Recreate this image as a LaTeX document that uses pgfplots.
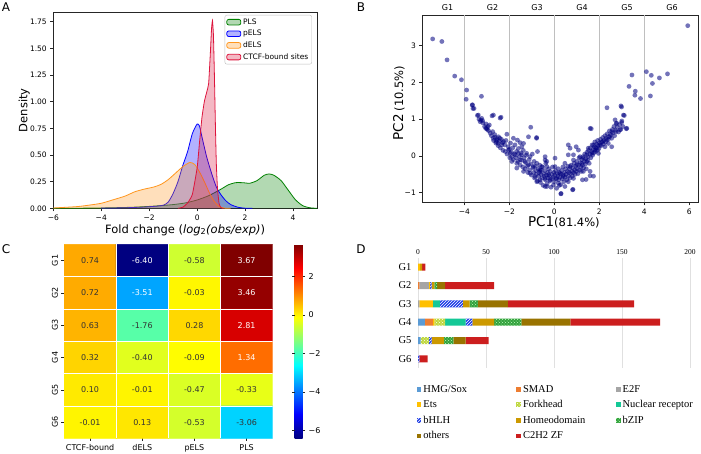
\documentclass[border=0pt]{standalone}
\usepackage{pgfplots}
\usepackage{pgfplotstable}
\pgfplotsset{compat=1.18}
\usepackage{fontspec}
\setmainfont{DejaVu Sans}
\newfontfamily\serif{Liberation Serif}
\usetikzlibrary{patterns}
\definecolor{cPLS}{RGB}{0,128,0}
\definecolor{cpELS}{RGB}{0,0,255}
\definecolor{cdELS}{RGB}{255,150,30}
\definecolor{cCTCF}{RGB}{220,20,60}
\definecolor{navyp}{RGB}{0,0,128}
\definecolor{dHMG}{RGB}{91,155,213}
\definecolor{dSMAD}{RGB}{237,125,49}
\definecolor{dE2F}{RGB}{165,165,165}
\definecolor{dEts}{RGB}{255,192,0}
\definecolor{dFork}{RGB}{190,215,60}
\definecolor{dNR}{RGB}{20,200,150}
\definecolor{dbHLH}{RGB}{30,60,230}
\definecolor{dHomeo}{RGB}{204,153,0}
\definecolor{dbZIP}{RGB}{50,160,60}
\definecolor{dOthers}{RGB}{153,115,0}
\definecolor{dC2H2}{RGB}{204,30,30}
\pgfplotstableread{
x y
-6 0
-5 0.001
-4 0.003
-3 0.008
-2.5 0.012
-2 0.018
-1.5 0.025
-1 0.035
-0.5 0.05
0 0.078
0.5 0.12
1 0.18
1.3 0.22
1.6 0.24
1.9 0.24
2.2 0.235
2.5 0.26
2.8 0.31
3.0 0.322
3.2 0.31
3.5 0.26
3.8 0.17
4.1 0.08
4.4 0.025
4.7 0.005
5 0
}\tPLS
\pgfplotstableread{
x y
-4 0.002
-3 0.005
-2.2 0.012
-1.7 0.02
-1.4 0.03
-1.2 0.06
-1.0 0.14
-0.8 0.25
-0.6 0.4
-0.4 0.53
-0.2 0.7
0 0.79
0.1 0.77
0.2 0.67
0.4 0.48
0.6 0.33
0.8 0.2
1.0 0.125
1.2 0.07
1.4 0.035
1.7 0.01
2.0 0.001
2.3 0
}\tpELS
\pgfplotstableread{
x y
-6 0.003
-5 0.016
-4.5 0.03
-4 0.047
-3.5 0.08
-3 0.115
-2.6 0.155
-2.2 0.18
-1.8 0.2
-1.5 0.225
-1.2 0.27
-0.9 0.33
-0.6 0.39
-0.3 0.43
-0.1 0.41
0.1 0.34
0.3 0.25
0.5 0.15
0.7 0.07
0.9 0.02
1.1 0.003
1.4 0
}\tdELS
\pgfplotstableread{
x y
-0.8 0
-0.6 0.01
-0.4 0.05
-0.2 0.13
0 0.38
0.1 0.62
0.2 0.85
0.3 1.0
0.4 1.09
0.48 1.17
0.55 1.45
0.6 1.68
0.64 1.76
0.68 1.62
0.72 1.25
0.76 0.8
0.8 0.42
0.85 0.18
0.92 0.04
1.0 0.005
1.1 0
}\tCTCF
\begin{document}
\begin{tikzpicture}[x=1pt,y=1pt]
\useasboundingbox (0pt,0pt) rectangle (701pt,453pt);
% panel letters
\node[font=\fontsize{12}{14}\selectfont] at (6pt,445.5pt) {A};
\node[font=\fontsize{12}{14}\selectfont] at (361pt,445.5pt) {B};
\node[font=\fontsize{12}{14}\selectfont] at (6pt,204pt) {C};
\node[font=\fontsize{12}{14}\selectfont] at (361pt,204pt) {D};

% ---------------- Panel A ----------------
\begin{axis}[
  at={(53.3pt,244.7pt)}, anchor=south west, scale only axis,
  width=263.7pt, height=196.3pt,
  xmin=-6, xmax=5, ymin=0, ymax=1.84,
  xtick={-6,-4,-2,0,2,4}, xticklabels={−6,−4,−2,0,2,4},
  ytick={0,0.25,0.5,0.75,1,1.25,1.5,1.75},
  yticklabels={0.00,0.25,0.50,0.75,1.00,1.25,1.50,1.75},
  tick align=outside, major tick length=3pt, xtick pos=left, ytick pos=left,
  tick style={black!85, line width=0.6pt},
  ticklabel style={font=\fontsize{7.5}{9}\selectfont},
  axis line style={black!85, line width=0.6pt},
  xlabel={Fold change (\textit{log}\textsubscript{2}\textit{(obs/exp)})},
  ylabel={Density},
  label style={font=\fontsize{11.5}{13}\selectfont},
  xlabel style={at={(axis description cs:0.5,-0.11)}, anchor=center},
  ylabel style={at={(axis description cs:-0.11,0.5)}, anchor=center},
  legend style={at={(0.981,0.985)}, anchor=north east, font=\fontsize{7.5}{9}\selectfont,
    draw=black!25, rounded corners=2pt, inner sep=1.5pt, row sep=0.5pt, cells={anchor=west}},
  legend image code/.code={\draw[#1] (0pt,-2.8pt) rectangle (14pt,2.8pt);},
]
\addplot[draw=none, fill=cPLS, fill opacity=0.3, smooth, tension=0.4, legend image post style={draw=cPLS, line width=0.8pt}] table {\tPLS} \closedcycle;
\addlegendentry{PLS}
\addplot[draw=cPLS, line width=0.8pt, smooth, tension=0.4, forget plot] table {\tPLS};
\addplot[draw=none, fill=cpELS, fill opacity=0.3, smooth, tension=0.4, legend image post style={draw=cpELS, line width=0.8pt}] table {\tpELS} \closedcycle;
\addlegendentry{pELS}
\addplot[draw=cpELS, line width=0.8pt, smooth, tension=0.4, forget plot] table {\tpELS};
\addplot[draw=none, fill=cdELS, fill opacity=0.3, smooth, tension=0.4, legend image post style={draw=cdELS, line width=0.8pt}] table {\tdELS} \closedcycle;
\addlegendentry{dELS}
\addplot[draw=cdELS, line width=0.8pt, smooth, tension=0.4, forget plot] table {\tdELS};
\addplot[draw=none, fill=cCTCF, fill opacity=0.3, smooth, tension=0.3, legend image post style={draw=cCTCF, line width=0.8pt}] table {\tCTCF} \closedcycle;
\addlegendentry{CTCF-bound sites}
\addplot[draw=cCTCF, line width=0.8pt, smooth, tension=0.3, forget plot] table {\tCTCF};
\end{axis}

% ---------------- Panel B ----------------
\begin{axis}[
  at={(422.3pt,250.7pt)}, anchor=south west, scale only axis,
  width=276pt, height=187.3pt,
  xmin=-5.87, xmax=6.4, ymin=-1.26, ymax=3.83, clip=false,
  xtick={-4,-2,0,2,4,6}, xticklabels={−4,−2,0,2,4,6},
  ytick={-1,0,1,2,3}, yticklabels={−1,0,1,2,3},
  tick align=outside, major tick length=3pt, xtick pos=left, ytick pos=left,
  tick style={black!85, line width=0.6pt},
  ticklabel style={font=\fontsize{7.5}{9}\selectfont},
  axis line style={black!85, line width=0.6pt},
  xlabel={{\fontsize{13.5}{15}\selectfont PC1}{\fontsize{11.5}{13}\selectfont(81.4\%)}},
  ylabel={{\fontsize{13.5}{15}\selectfont PC2} {\fontsize{11.5}{13}\selectfont(10.5\%)}},
  xlabel style={at={(axis description cs:0.513,-0.105)}, anchor=center},
  ylabel style={at={(axis description cs:-0.085,0.53)}, anchor=center},
]
\draw[black!25, line width=1pt] (axis cs:-4,-1.26) -- (axis cs:-4,3.83);
\draw[black!25, line width=1pt] (axis cs:-2,-1.26) -- (axis cs:-2,3.83);
\draw[black!25, line width=1pt] (axis cs:0,-1.26) -- (axis cs:0,3.83);
\draw[black!25, line width=1pt] (axis cs:2,-1.26) -- (axis cs:2,3.83);
\draw[black!25, line width=1pt] (axis cs:4,-1.26) -- (axis cs:4,3.83);
\addplot[only marks, mark=*, mark size=2.4pt, mark options={draw=navyp, draw opacity=0, fill=navyp, fill opacity=0.55}] table {
x y
-5.41 3.18
-5.00 3.11
-4.77 2.61
-4.43 2.17
-4.13 2.07
-3.90 1.79
-3.92 1.54
-3.65 1.38
-3.62 1.29
-3.24 1.62
-3.42 1.10
-3.27 0.97
-2.77 1.09
-2.41 1.03
-1.05 0.78
-0.79 0.50
1.64 0.74
2.34 1.31
2.99 1.33
3.11 1.10
3.20 0.74
3.32 1.89
3.45 2.20
3.60 1.76
3.58 1.65
3.83 1.56
4.09 2.29
4.31 2.19
4.36 1.97
4.27 1.63
4.67 2.12
5.03 2.23
5.93 3.54
-3.64 1.39
-3.57 1.29
-3.38 1.11
-3.23 1.02
-3.19 0.96
-3.04 0.87
-2.89 0.84
-3.01 0.75
-2.93 0.69
-2.74 0.66
-2.71 1.11
-2.37 1.05
-2.11 0.59
-2.64 0.51
-2.56 0.43
-2.42 0.48
-2.49 0.34
-2.34 0.30
-2.59 0.39
-2.26 0.39
-1.82 0.48
-1.64 0.43
-1.52 0.36
-1.37 0.34
-1.15 0.52
-0.79 0.48
-1.45 0.25
-2.04 0.16
-1.96 0.07
-1.89 -0.02
-1.74 0.03
-1.60 0.07
-1.45 0.03
-1.23 0.07
-1.08 -0.02
-0.75 0.12
-1.89 -0.15
-1.67 -0.20
-1.52 -0.11
-1.30 -0.15
-1.15 -0.24
-0.93 -0.29
-0.63 -0.38
-1.67 -0.33
-1.37 -0.42
-1.08 -0.47
-0.86 -0.56
-0.63 -0.65
-0.41 -0.61
-0.78 -0.70
-0.33 -0.83
-0.41 -0.11
-0.33 -0.29
2.96 1.36
3.07 1.11
2.70 0.98
2.77 0.89
2.99 0.91
2.92 0.71
3.22 0.75
2.74 0.66
2.55 0.66
1.59 0.75
2.47 0.53
2.33 0.44
2.15 0.39
2.40 0.34
2.55 0.25
2.25 0.25
2.03 0.30
1.88 0.21
1.74 0.30
1.81 0.16
1.96 0.07
1.66 0.07
1.51 0.21
1.44 0.03
1.29 -0.06
1.14 -0.02
0.97 0.25
0.62 0.30
0.70 0.21
0.85 0.03
1.07 0.16
0.85 -0.11
0.62 0.03
0.47 -0.20
0.70 -0.29
1.00 -0.24
1.22 -0.20
1.44 -0.15
1.59 -0.42
1.29 -0.42
1.25 -0.65
1.59 -0.54
0.85 -0.61
0.62 -0.70
0.47 -0.83
0.81 -0.92
0.29 -1.03
0.10 -0.61
0.03 -0.29
0.03 -0.06
-0.41 -0.02
-0.34 -0.15
-0.56 -0.29
-0.64 -0.42
-0.26 -0.51
-0.19 -0.65
-0.41 -0.83
0.25 -0.47
0.40 -0.56
0.18 -0.74
-0.04 -0.79
0.30 -1.02
0.83 -0.91
0.22 -0.80
1.41 -0.64
1.74 -0.55
-3.35 1.00
-3.30 0.93
-3.18 0.90
-3.10 0.80
-3.05 0.75
-2.98 0.72
-2.95 0.80
-2.85 0.62
-2.80 0.55
-2.72 0.48
-2.70 0.42
-2.65 0.58
-2.60 0.35
-2.55 0.47
-2.50 0.28
-2.48 0.52
-2.45 0.40
-2.40 0.22
-2.35 0.45
-2.30 0.36
-2.28 0.15
-2.20 0.30
-2.18 0.12
-2.15 0.42
-2.10 0.05
-2.05 0.25
-2.00 0.18
-1.98 -0.05
-1.95 0.35
-1.90 0.10
-1.85 0.22
-1.82 -0.10
-1.78 0.05
-1.75 0.30
-1.70 -0.05
-1.68 0.12
-1.62 -0.15
-1.60 0.20
-1.55 -0.02
-1.52 -0.25
-1.48 0.08
-1.45 -0.12
-1.40 -0.30
-1.38 0.15
-1.35 -0.05
-1.30 -0.35
-1.28 -0.18
-1.25 0.02
-1.20 -0.28
-1.18 -0.45
-1.12 -0.10
-1.10 -0.38
-1.05 -0.22
-1.02 -0.52
-0.98 0.05
-0.95 -0.32
-0.92 -0.45
-0.90 -0.15
-0.88 -0.60
-0.85 -0.28
-0.82 -0.40
-0.80 -0.50
-0.78 -0.20
-0.75 -0.68
-0.72 -0.35
-0.70 -0.55
-0.68 -0.45
-0.65 -0.25
-0.62 -0.72
-0.60 -0.50
-0.58 -0.38
-0.55 -0.60
-0.52 -0.30
-0.50 -0.80
-0.48 -0.48
-0.45 -0.55
-0.42 -0.40
-0.40 -0.65
-0.38 -0.20
-0.35 -0.52
-0.32 -0.75
-0.30 -0.45
-0.28 -0.60
-0.25 -0.35
-0.22 -0.55
-0.20 -0.68
-0.18 -0.42
-0.15 -0.85
-0.12 -0.50
-0.10 -0.62
-0.08 -0.30
-0.05 -0.58
-0.02 -0.45
0.00 -0.70
0.02 -0.52
0.05 -0.40
0.08 -0.62
0.10 -0.88
0.12 -0.48
0.15 -0.55
0.18 -0.35
0.20 -0.65
0.22 -0.45
0.25 -0.58
0.28 -0.78
0.30 -0.50
0.33 -0.40
0.35 -0.62
0.38 -0.30
0.40 -0.52
0.42 -0.70
0.45 -0.45
0.48 -0.58
0.50 -0.35
0.52 -0.50
0.55 -0.65
0.58 -0.42
0.60 -0.28
0.62 -0.55
0.65 -0.45
0.68 -0.35
0.70 -0.60
0.72 -0.48
0.75 -0.25
0.78 -0.42
0.80 -0.55
0.82 -0.32
0.85 -0.45
0.88 -0.20
0.90 -0.38
0.92 -0.50
0.95 -0.28
0.98 -0.42
1.00 -0.15
1.02 -0.35
1.05 -0.48
1.08 -0.25
1.10 -0.05
1.12 -0.38
1.15 -0.18
1.18 -0.30
1.20 -0.42
1.22 -0.10
1.25 -0.25
1.28 -0.02
1.30 -0.32
1.33 -0.15
1.35 0.05
1.38 -0.22
1.40 -0.08
1.42 -0.35
1.45 0.10
1.48 -0.12
1.50 -0.02
1.52 0.15
1.55 -0.20
1.58 0.05
1.60 0.22
1.62 -0.05
1.65 0.12
1.68 0.30
1.70 0.02
1.72 0.18
1.75 0.08
1.78 0.25
1.80 0.38
1.82 0.12
1.85 0.22
1.88 0.32
1.90 0.15
1.92 0.42
1.95 0.28
1.98 0.20
2.00 0.35
2.05 0.45
2.08 0.28
2.10 0.38
2.15 0.50
2.18 0.32
2.20 0.42
2.25 0.55
2.28 0.38
2.30 0.48
2.35 0.60
2.40 0.45
2.42 0.52
2.45 0.68
2.50 0.58
2.55 0.48
2.58 0.72
2.60 0.62
2.65 0.80
2.68 0.55
2.72 0.70
2.75 0.88
2.80 0.78
2.85 0.65
2.90 0.85
2.95 0.72
3.00 0.95
3.05 0.80
};
\node[font=\fontsize{8}{9}\selectfont, yshift=7.7pt] at (axis cs:-4.75,3.83) {G1};
\node[font=\fontsize{8}{9}\selectfont, yshift=7.7pt] at (axis cs:-2.75,3.83) {G2};
\node[font=\fontsize{8}{9}\selectfont, yshift=7.7pt] at (axis cs:-0.77,3.83) {G3};
\node[font=\fontsize{8}{9}\selectfont, yshift=7.7pt] at (axis cs:1.23,3.83) {G4};
\node[font=\fontsize{8}{9}\selectfont, yshift=7.7pt] at (axis cs:3.23,3.83) {G5};
\node[font=\fontsize{8}{9}\selectfont, yshift=7.7pt] at (axis cs:5.23,3.83) {G6};
\end{axis}

% ---------------- Panel C ----------------
\begin{axis}[
  at={(64pt,14.7pt)}, anchor=south west, scale only axis,
  width=208.7pt, height=194pt,
  xmin=-0.5, xmax=3.5, ymin=-0.5, ymax=5.5, y dir=reverse,
  colormap/jet, point meta min=-6.40, point meta max=3.67,
  xtick={0,1,2,3}, xticklabels={CTCF-bound,dELS,pELS,PLS},
  ytick={0,1,2,3,4,5}, yticklabels={G1,G2,G3,G4,G5,G6},
  yticklabel style={rotate=90, anchor=south},
  tick align=outside, major tick length=2.5pt, xtick pos=left, ytick pos=left,
  tick style={black!85, line width=0.5pt},
  ticklabel style={font=\fontsize{8}{9}\selectfont},
  axis line style={draw=none},
  colorbar,
  colorbar style={at={(parent axis.north east)}, anchor=north west, xshift=13.3pt,
    width=8pt, height=194pt, scale only axis,
    ytick={-6,-4,-2,0,2}, yticklabels={−6,−4,−2,0,2},
    yticklabel style={font=\fontsize{8}{9}\selectfont},
    tick align=outside, major tick length=2.5pt, tick style={black!85, line width=0.5pt},
    axis line style={draw=none}},
]
\addplot[matrix plot*, mesh/cols=4, mesh/rows=6, point meta=explicit] table[meta=c] {
x y c
0 0 0.74
1 0 -6.40
2 0 -0.58
3 0 3.67
0 1 0.72
1 1 -3.51
2 1 -0.03
3 1 3.46
0 2 0.63
1 2 -1.76
2 2 0.28
3 2 2.81
0 3 0.32
1 3 -0.40
2 3 -0.09
3 3 1.34
0 4 0.10
1 4 -0.01
2 4 -0.47
3 4 -0.33
0 5 -0.01
1 5 0.13
2 5 -0.53
3 5 -3.06
};
\draw[white, line width=0.8pt] (axis cs:0.5,-0.5) -- (axis cs:0.5,5.5);
\draw[white, line width=0.8pt] (axis cs:1.5,-0.5) -- (axis cs:1.5,5.5);
\draw[white, line width=0.8pt] (axis cs:2.5,-0.5) -- (axis cs:2.5,5.5);
\draw[white, line width=0.8pt] (axis cs:-0.5,0.5) -- (axis cs:3.5,0.5);
\draw[white, line width=0.8pt] (axis cs:-0.5,1.5) -- (axis cs:3.5,1.5);
\draw[white, line width=0.8pt] (axis cs:-0.5,2.5) -- (axis cs:3.5,2.5);
\draw[white, line width=0.8pt] (axis cs:-0.5,3.5) -- (axis cs:3.5,3.5);
\draw[white, line width=0.8pt] (axis cs:-0.5,4.5) -- (axis cs:3.5,4.5);
\addplot[only marks, mark=none, point meta=explicit symbolic, nodes near coords,
  nodes near coords style={anchor=center, font=\fontsize{8}{9}\selectfont, text=black!80}] table[meta=t] {
x y t
0 0 0.74
2 0 -0.58
0 1 0.72
2 1 -0.03
0 2 0.63
1 2 -1.76
2 2 0.28
0 3 0.32
1 3 -0.40
2 3 -0.09
0 4 0.10
1 4 -0.01
2 4 -0.47
3 4 -0.33
0 5 -0.01
1 5 0.13
2 5 -0.53
3 5 -3.06
};
\addplot[only marks, mark=none, point meta=explicit symbolic, nodes near coords,
  nodes near coords style={anchor=center, font=\fontsize{8}{9}\selectfont, text=white}] table[meta=t] {
x y t
1 0 -6.40
3 0 3.67
1 1 -3.51
3 1 3.46
3 2 2.81
3 3 1.34
};
\end{axis}

% ---------------- Panel D ----------------
\begin{axis}[
  at={(418pt,85pt)}, anchor=south west, scale only axis,
  width=272pt, height=110pt,
  xbar stacked, bar width=7pt,
  xmin=0, xmax=200, ymin=-0.5, ymax=5.5, y dir=reverse,
  ytick={0,1,2,3,4,5}, yticklabels={G1,G2,G3,G4,G5,G6},
  xtick={0,50,100,150,200}, xticklabels={0,50,100,150,200},
  xticklabel pos=right, major tick length=0pt,
  axis line style={draw=none},
  xmajorgrids, grid style={black!12, line width=0.6pt},
  yticklabel style={font=\serif\fontsize{10.5}{12}\selectfont, xshift=-3pt},
  xticklabel style={font=\serif\fontsize{7.5}{9}\selectfont},
  legend columns=3,
  legend style={at={(axis description cs:-0.005,-0.135)}, anchor=north west, draw=none,
    font=\serif\fontsize{10.5}{12}\selectfont, row sep=2.8pt, cells={anchor=west},
    inner sep=0pt},
  legend image code/.code={\draw[#1, draw=none] (0pt,-2.3pt) rectangle (4.6pt,2.3pt);},
]
\addplot[fill=dHMG, draw=none] coordinates {(0,0) (0,1) (0,2) (5,3) (2,4) (0,5)};
\addlegendentry{\makebox[91pt][l]{HMG/Sox}}
\addplot[fill=dSMAD, draw=none] coordinates {(0,0) (1,1) (0,2) (6,3) (0,4) (0,5)};
\addlegendentry{\makebox[91pt][l]{SMAD}}
\addplot[fill=dE2F, draw=none] coordinates {(0,0) (7,1) (1,2) (0,3) (0,4) (0,5)};
\addlegendentry{\makebox[70pt][l]{E2F}}
\addplot[fill=dEts, draw=none] coordinates {(1.5,0) (1,1) (10,2) (1,3) (0,4) (0,5)};
\addlegendentry{\makebox[91pt][l]{Ets}}
\addplot[fill=dFork, draw=none, postaction={pattern=crosshatch dots, pattern color=white}] coordinates {(0,0) (0,1) (0,2) (8,3) (6,4) (0,5)};
\addlegendentry{\makebox[91pt][l]{Forkhead}}
\addplot[fill=dNR, draw=none] coordinates {(0,0) (0,1) (5,2) (15,3) (0,4) (0,5)};
\addlegendentry{\makebox[70pt][l]{Nuclear receptor}}
\addplot[fill=dbHLH, draw=none, postaction={pattern=north east lines, pattern color=white}] coordinates {(0,0) (1,1) (17,2) (5,3) (2,4) (1,5)};
\addlegendentry{\makebox[91pt][l]{bHLH}}
\addplot[fill=dHomeo, draw=none] coordinates {(1.5,0) (2,1) (5,2) (16,3) (9,4) (0,5)};
\addlegendentry{\makebox[91pt][l]{Homeodomain}}
\addplot[fill=dbZIP, draw=none, postaction={pattern=crosshatch dots, pattern color=green!25}] coordinates {(0,0) (2,1) (6,2) (20,3) (7,4) (0,5)};
\addlegendentry{\makebox[70pt][l]{bZIP}}
\addplot[fill=dOthers, draw=none] coordinates {(0,0) (6,1) (22,2) (36,3) (9,4) (0,5)};
\addlegendentry{\makebox[91pt][l]{others}}
\addplot[fill=dC2H2, draw=none] coordinates {(2.4,0) (36,1) (93,2) (66,3) (17,4) (6,5)};
\addlegendentry{\makebox[91pt][l]{C2H2 ZF}}
\end{axis}
\end{tikzpicture}
\end{document}
